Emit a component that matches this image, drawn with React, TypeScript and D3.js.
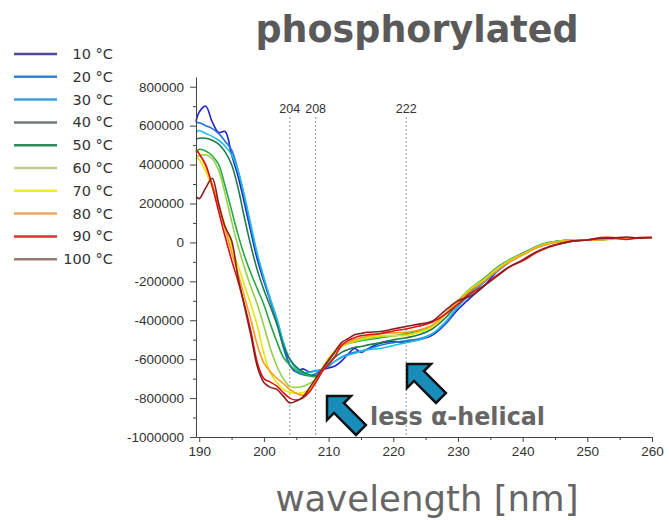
import React, { useRef, useEffect } from 'react';
import * as d3 from 'd3';

// wavelength grid (nm) shared by every temperature
const wavelengths = [189.5, 190, 191, 192, 193, 194, 195, 196, 197, 198, 199, 200, 201, 202, 203, 204, 205, 206, 207, 208,
  209, 210, 211, 212, 213, 214, 215, 216, 218, 220, 222, 224, 226, 228, 230, 232, 234, 236, 238, 240,
  242, 244, 246, 248, 250, 252, 254, 256, 258, 260];

const temps = ['10 °C', '20 °C', '30 °C', '40 °C', '50 °C', '60 °C', '70 °C', '80 °C', '90 °C', '100 °C'];

const t10 = [620000, 670000, 700000, 620000, 565000, 570000, 450000, 340000, 200000, 50000,
  -90000, -200000, -300000, -400000, -520000, -630000, -665000, -650000, -665000, -660000,
  -655000, -645000, -635000, -610000, -575000, -545000, -565000, -548000,
  -518000, -510000, -512000, -500000, -478000, -422000, -345000, -282000, -225000, -150000,
  -95000, -55000, -28000, -5000, 5000, 10000, 12000, 15000, 18000, 22000, 22000, 24000];
const t20 = [615000, 615000, 600000, 585000, 560000, 520000, 475000, 370000, 225000, 70000,
  -70000, -190000, -300000, -400000, -540000, -630000, -665000, -680000, -685000, -675000,
  -655000, -635000, -610000, -590000, -575000, -565000, -558000, -550000,
  -528000, -515000, -505000, -495000, -470000, -420000, -330000, -265000, -205000, -150000,
  -100000, -60000, -28000, -5000, 8000, 12000, 12000, 15000, 18000, 20000, 22000, 24000];
const t30 = [565000, 575000, 560000, 545000, 525000, 495000, 450000, 370000, 240000, 90000,
  -60000, -180000, -290000, -390000, -510000, -600000, -650000, -670000, -668000, -660000,
  -650000, -630000, -610000, -592000, -580000, -570000, -560000, -552000,
  -545000, -530000, -515000, -500000, -470000, -410000, -330000, -262000, -200000, -148000,
  -95000, -58000, -25000, -3000, 8000, 12000, 14000, 15000, 18000, 22000, 22000, 24000];
const t40 = [530000, 535000, 535000, 525000, 505000, 465000, 400000, 280000, 125000, -20000,
  -145000, -245000, -330000, -420000, -530000, -600000, -640000, -665000, -680000, -685000,
  -660000, -625000, -590000, -565000, -550000, -540000, -535000, -528000,
  -515000, -500000, -490000, -475000, -445000, -390000, -315000, -250000, -195000, -140000,
  -92000, -58000, -25000, -3000, 8000, 12000, 14000, 15000, 18000, 20000, 22000, 24000];
const t50 = [465000, 478000, 470000, 445000, 400000, 290000, 165000, 40000, -70000, -160000,
  -240000, -320000, -420000, -510000, -590000, -630000, -660000, -675000, -685000, -690000,
  -660000, -610000, -565000, -535000, -520000, -512000, -505000, -500000,
  -490000, -480000, -470000, -455000, -430000, -370000, -300000, -235000, -185000, -130000,
  -88000, -55000, -22000, 0, 8000, 12000, 14000, 15000, 18000, 22000, 22000, 24000];
const t60 = [440000, 445000, 450000, 430000, 370000, 250000, 110000, -20000, -130000, -230000,
  -320000, -430000, -545000, -635000, -700000, -740000, -745000, -740000, -725000, -705000,
  -650000, -600000, -560000, -535000, -520000, -510000, -500000, -495000,
  -485000, -480000, -475000, -460000, -430000, -370000, -300000, -235000, -190000, -135000,
  -90000, -58000, -25000, -3000, 8000, 12000, 12000, 15000, 18000, 20000, 22000, 24000];
const t70 = [440000, 425000, 365000, 285000, 190000, 85000, -20000, -120000, -220000, -320000,
  -430000, -570000, -670000, -720000, -755000, -770000, -775000, -772000, -755000, -715000,
  -650000, -595000, -560000, -535000, -520000, -505000, -498000, -490000,
  -480000, -478000, -478000, -462000, -435000, -375000, -305000, -240000, -192000, -138000,
  -95000, -62000, -28000, -5000, 6000, 12000, 12000, 14000, 16000, 20000, 22000, 22000];
const t80 = [485000, 455000, 390000, 300000, 190000, 70000, -50000, -160000, -280000, -400000,
  -530000, -620000, -665000, -698000, -725000, -755000, -775000, -785000, -765000, -720000,
  -660000, -600000, -560000, -530000, -515000, -500000, -490000, -482000,
  -470000, -465000, -462000, -450000, -425000, -370000, -305000, -245000, -200000, -145000,
  -100000, -65000, -30000, -8000, 5000, 10000, 12000, 14000, 18000, 20000, 22000, 22000];
const t90 = [476000, 455000, 400000, 290000, 160000, 30000, -90000, -200000, -320000, -460000,
  -620000, -700000, -718000, -738000, -772000, -800000, -810000, -800000, -770000, -720000,
  -665000, -625000, -585000, -530000, -505000, -490000, -480000, -475000,
  -468000, -455000, -445000, -430000, -410000, -370000, -318000, -262000, -222000, -170000,
  -125000, -95000, -55000, -25000, -5000, 8000, 12000, 25000, 25000, 15000, 25000, 26000];
const t100 = [235000, 225000, 280000, 330000, 200000, 80000, 10000, -180000, -330000, -480000,
  -640000, -720000, -745000, -755000, -790000, -825000, -815000, -795000, -750000, -700000,
  -650000, -605000, -560000, -515000, -495000, -475000, -468000, -462000,
  -458000, -445000, -432000, -420000, -405000, -350000, -300000, -275000, -225000, -175000,
  -125000, -90000, -50000, -22000, -5000, 8000, 12000, 20000, 22000, 28000, 22000, 25000];

const series = [t10, t20, t30, t40, t50, t60, t70, t80, t90, t100];

const lineColors = ['#2424c8', '#1f72dc', '#22bde6', '#1c7a4e', '#26a844', '#96cf48', '#e6e600', '#ff9a1e', '#e01212', '#8a1e1e'];
const legendColors = ['#4a4a96', '#3a80d2', '#3aa0e0', '#6f7a76', '#2e8a5a', '#c0d08a', '#eeee22', '#e8a860', '#e03030', '#9a7a70'];

const yTicks = [800000, 600000, 400000, 200000, 0, -200000, -400000, -600000, -800000, -1000000];
const yMinor = [700000, 500000, 300000, 100000, -100000, -300000, -500000, -700000, -900000];
const xTicks = [190, 200, 210, 220, 230, 240, 250, 260];
const xMinor = [195, 205, 215, 225, 235, 245, 255];
const refLines = [204, 208, 222];

function App() {
  const svgRef = useRef<SVGSVGElement>(null);
  const width = 669;
  const height = 520;

  useEffect(() => {
    document.body.style.margin = '0';
    const svg = d3.select(svgRef.current);
    svg.selectAll('*').remove();

    const x = d3.scaleLinear().domain([189.5, 260]).range([196, 652]);
    const y = d3.scaleLinear().domain([-1000000, 850000]).range([437, 77]);
    const tickFont = '"Liberation Sans", Arial, sans-serif';

    // title
    svg.append('text')
      .attr('x', 417).attr('y', 42)
      .attr('text-anchor', 'middle')
      .attr('font-family', '"DejaVu Sans", Verdana, sans-serif')
      .attr('font-weight', 'bold')
      .attr('font-size', 38)
      .attr('fill', '#5a5a5a')
      .attr('textLength', 323)
      .attr('lengthAdjust', 'spacingAndGlyphs')
      .text('phosphorylated');

    // legend
    const legend = svg.append('g');
    temps.forEach((t, i) => {
      const ly = 54 + i * 22.8;
      legend.append('line')
        .attr('x1', 14).attr('x2', 57).attr('y1', ly).attr('y2', ly)
        .attr('stroke', legendColors[i]).attr('stroke-width', 2.5);
      legend.append('text')
        .attr('x', 113).attr('y', ly + 5)
        .attr('text-anchor', 'end')
        .attr('font-family', '"DejaVu Sans", sans-serif')
        .attr('font-size', 14.5)
        .attr('fill', '#333')
        .text(t);
    });

    // reference lines
    const refs = svg.append('g');
    refLines.forEach(r => {
      refs.append('line')
        .attr('x1', x(r)).attr('x2', x(r)).attr('y1', 117).attr('y2', 437)
        .attr('stroke', '#999').attr('stroke-width', 1).attr('stroke-dasharray', '2,2');
      refs.append('text')
        .attr('x', x(r)).attr('y', 113)
        .attr('text-anchor', 'middle')
        .attr('font-family', tickFont)
        .attr('font-size', 12.5)
        .attr('fill', '#333')
        .text(r);
    });

    // curves
    const line = d3.line<number>()
      .x((d, i) => x(wavelengths[i]))
      .y(d => y(d))
      .curve(d3.curveCatmullRom.alpha(0.5));

    svg.append('g')
      .selectAll('path')
      .data(series)
      .join('path')
      .attr('fill', 'none')
      .attr('stroke', (d, i) => lineColors[i])
      .attr('stroke-width', 1.6)
      .attr('d', d => line(d));

    // axes
    const yAxis = svg.append('g').attr('transform', 'translate(196,0)')
      .call(d3.axisLeft(y).tickValues(yTicks).tickSize(6).tickSizeOuter(0).tickPadding(6).tickFormat(d => String(d)));
    svg.append('g').attr('transform', 'translate(196,0)')
      .call(d3.axisLeft(y).tickValues(yMinor).tickSize(3).tickSizeOuter(0).tickFormat(() => ''))
      .select('.domain').remove();
    const xAxis = svg.append('g').attr('transform', 'translate(0,437)')
      .call(d3.axisBottom(x).tickValues(xTicks).tickSize(5).tickSizeOuter(0).tickPadding(4).tickFormat(d => String(d)));
    svg.append('g').attr('transform', 'translate(0,437)')
      .call(d3.axisBottom(x).tickValues(xMinor).tickSize(3).tickSizeOuter(0).tickFormat(() => ''))
      .select('.domain').remove();

    svg.selectAll('.tick line').attr('stroke', '#444');
    svg.selectAll('.domain').attr('stroke', '#444');
    [yAxis, xAxis].forEach(a => a.selectAll('text')
      .attr('font-family', tickFont).attr('font-size', 13.5).attr('fill', '#333'));

    // arrows
    const arrow = 'M0,0 L17,-17 L17,-7 L48,-7 L48,7 L17,7 L17,17 Z';
    [[327, 396], [407, 364]].forEach(([ax, ay]) => {
      svg.append('path')
        .attr('d', arrow)
        .attr('transform', `translate(${ax},${ay}) rotate(45)`)
        .attr('fill', '#1a8cba')
        .attr('stroke', '#111')
        .attr('stroke-width', 2.5)
        .attr('stroke-linejoin', 'miter');
    });

    svg.append('text')
      .attr('x', 370).attr('y', 425)
      .attr('font-family', '"DejaVu Sans", Verdana, sans-serif')
      .attr('font-weight', 'bold')
      .attr('font-size', 24)
      .attr('fill', '#666')
      .attr('textLength', 175)
      .attr('lengthAdjust', 'spacingAndGlyphs')
      .text('less α-helical');

    svg.append('text')
      .attr('x', 427).attr('y', 511)
      .attr('text-anchor', 'middle')
      .attr('font-family', '"DejaVu Sans", Verdana, sans-serif')
      .attr('font-size', 36)
      .attr('fill', '#666')
      .attr('textLength', 303)
      .attr('lengthAdjust', 'spacingAndGlyphs')
      .text('wavelength [nm]');
  }, []);

  return (
    <div style={{ width: width, height: height }}>
      <svg ref={svgRef} width={width} height={height} style={{ display: 'block', background: '#fff' }}></svg>
    </div>
  );
}

export default App;
